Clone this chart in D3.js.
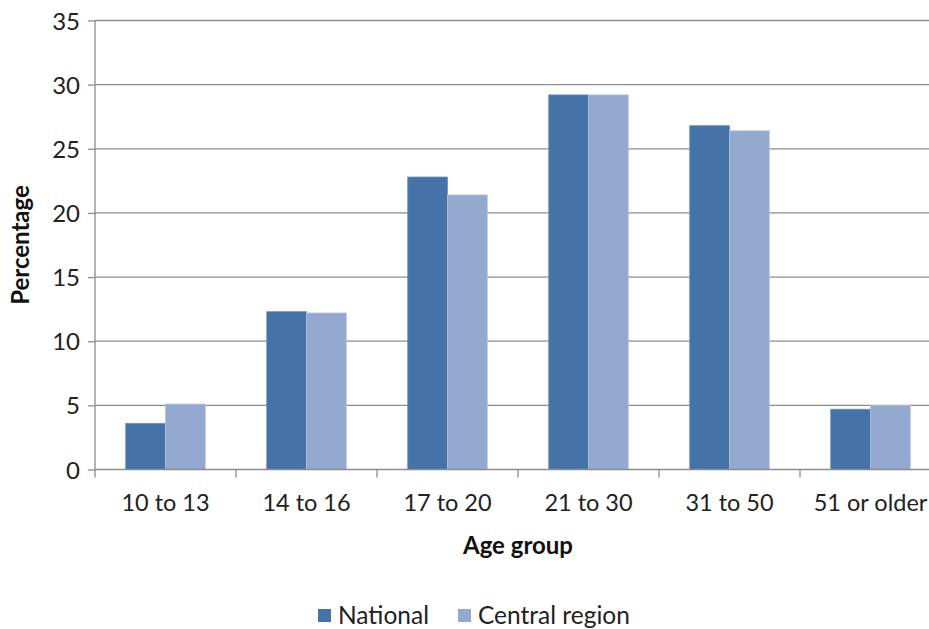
<!DOCTYPE html>
<html>
<head>
<meta charset="utf-8">
<script src="https://cdn.jsdelivr.net/npm/d3@7"></script>
<style>
  html, body { margin: 0; padding: 0; background: #fff; }
  svg { display: block; font-family: Lato, "Open Sans", sans-serif; }
</style>
</head>
<body>
<svg id="chart" width="929" height="629"></svg>
<script>
// Share of respondents by age group
const categories = ["10 to 13", "14 to 16", "17 to 20", "21 to 30", "31 to 50", "51 or older"];
const seriesNames = ["National", "Central region"];
const national = [3.6, 12.3, 22.8, 29.2, 26.8, 4.7];
const central = [5.1, 12.2, 21.4, 29.2, 26.4, 5.0];
const yTicks = [0, 5, 10, 15, 20, 25, 30, 35];
const colors = ["#4573A7", "#94A9D0"];

const svg = d3.select("#chart");
const margin = { left: 95, top: 20.5, bottom: 469.5 };
const plotRight = 941; // plot continues slightly past the visible edge

const x0 = d3.scaleBand().domain(categories).range([margin.left, plotRight]).paddingInner(0).paddingOuter(0);
const groupPad = 0.218; // Excel-style gap width of ~78%
const x1 = d3.scaleBand().domain(seriesNames)
  .range([x0.bandwidth() * groupPad, x0.bandwidth() * (1 - groupPad)]);
const y = d3.scaleLinear().domain([0, 35]).range([margin.bottom, margin.top]);

const gridColor = "#8c8c8c";

// horizontal gridlines
svg.append("g").selectAll("line").data(yTicks.filter(d => d > 0)).join("line")
  .attr("x1", margin.left).attr("x2", plotRight)
  .attr("y1", d => y(d)).attr("y2", d => y(d))
  .attr("stroke", gridColor).attr("stroke-width", 1.3);

// bars
const rows = categories.map((c, i) => ({ c, vals: [national[i], central[i]] }));
const groups = svg.append("g").selectAll("g").data(rows).join("g")
  .attr("transform", d => `translate(${x0(d.c)},0)`);
groups.selectAll("rect").data(d => d.vals.map((v, k) => ({ v, k }))).join("rect")
  .attr("x", d => x1(seriesNames[d.k]))
  .attr("width", x1.bandwidth())
  .attr("y", d => y(d.v))
  .attr("height", d => y(0) - y(d.v))
  .attr("fill", d => colors[d.k])
  .attr("stroke", d => d.k === 0 ? "#6a8fbd" : "#b4c3e0")
  .attr("stroke-width", 0.8);

// y axis
const yAxis = d3.axisLeft(y).tickValues(yTicks).tickSize(7).tickPadding(8).tickFormat(d3.format("d"));
const yg = svg.append("g").attr("transform", `translate(${margin.left},0)`).call(yAxis);
yg.select(".domain").attr("stroke", gridColor).attr("stroke-width", 1.3).attr("d", `M-0,${y(0)}V${y(35)}`);
yg.selectAll(".tick line").attr("stroke", gridColor).attr("stroke-width", 1.3);
yg.selectAll(".tick text").attr("font-family", "Lato, sans-serif").attr("font-size", 24).attr("fill", "#222").attr("dy", "0.36em");

// x axis
const xAxis = d3.axisBottom(x0).tickSize(0).tickPadding(25);
const xg = svg.append("g").attr("transform", `translate(0,${y(0)})`).call(xAxis);
xg.select(".domain").attr("stroke", gridColor).attr("stroke-width", 1.3).attr("d", `M${margin.left},0H${plotRight}`);
xg.selectAll(".tick text").attr("font-family", "Lato, sans-serif").attr("font-size", 23.5).attr("fill", "#222");
// boundary ticks between categories
xg.append("g").selectAll("line").data(categories.map((c, i) => i)).join("line")
  .attr("x1", i => margin.left + i * x0.step()).attr("x2", i => margin.left + i * x0.step())
  .attr("y1", 0).attr("y2", 8)
  .attr("stroke", gridColor).attr("stroke-width", 1.3);

// axis titles
svg.append("text").attr("x", 518).attr("y", 554).attr("text-anchor", "middle")
  .attr("font-size", 24).attr("font-weight", "bold").attr("fill", "#111").text("Age group");
svg.append("text").attr("transform", `translate(29,${245}) rotate(-90)`).attr("text-anchor", "middle")
  .attr("font-size", 24).attr("font-weight", "bold").attr("fill", "#111").text("Percentage");

// legend
const legendItems = [{ name: seriesNames[0], x: 318 }, { name: seriesNames[1], x: 458 }];
const lg = svg.append("g").selectAll("g").data(legendItems).join("g")
  .attr("transform", d => `translate(${d.x},609)`);
lg.append("rect").attr("width", 13).attr("height", 13).attr("fill", (d, i) => colors[i]);
lg.append("text").attr("x", 20).attr("y", 14.5).attr("font-size", 24.5).attr("fill", "#222").text(d => d.name);
</script>
</body>
</html>
